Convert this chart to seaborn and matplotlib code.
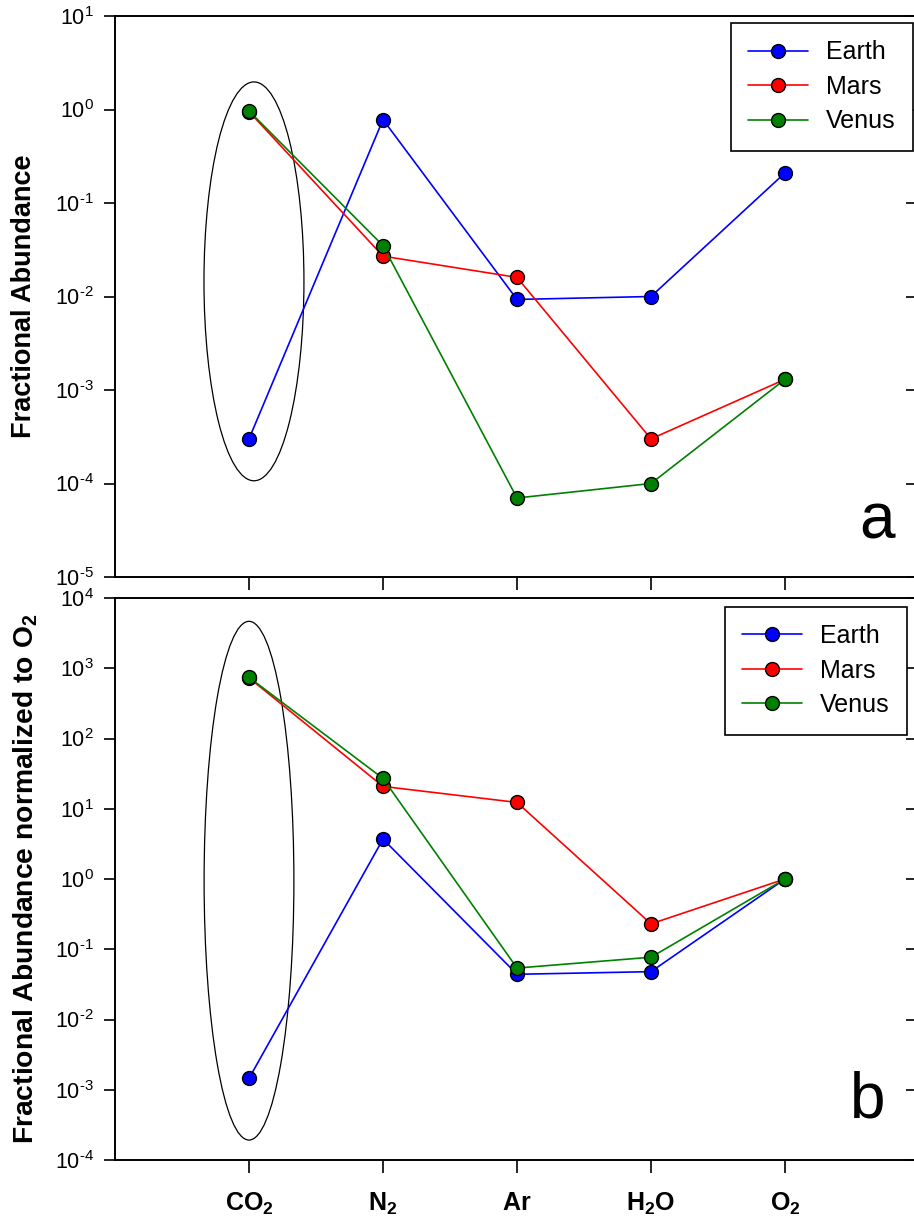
import matplotlib
matplotlib.use("Agg")
import matplotlib.pyplot as plt
import matplotlib.font_manager as fm
import seaborn as sns
import numpy as np
from matplotlib.patches import Ellipse
from matplotlib.ticker import FixedLocator, NullLocator

# ---- data ----
gases = [r"$\mathbf{CO_2}$", r"$\mathbf{N_2}$", r"$\mathbf{Ar}$", r"$\mathbf{H_2O}$", r"$\mathbf{O_2}$"]
planets = ["Earth", "Mars", "Venus"]
colors = ["#0000ff", "#ff0000", "#008000"]

# panel a: fractional abundance
earth_a = [3.0e-4, 0.78, 9.3e-3, 1.0e-2, 0.21]
mars_a = [0.95, 0.027, 0.016, 3.0e-4, 1.3e-3]
venus_a = [0.965, 0.035, 7.0e-5, 1.0e-4, 1.3e-3]

# panel b: fractional abundance normalized to O2
earth_b = [1.45e-3, 3.7, 0.044, 0.048, 1.0]
mars_b = [730.0, 20.8, 12.3, 0.23, 1.0]
venus_b = [742.0, 27.0, 0.054, 0.077, 1.0]

ylabel_a = "Fractional Abundance"
ylabel_b = r"Fractional Abundance normalized to O$_\mathbf{2}$"

sns.set_style("white")
plt.rcParams["font.family"] = ["Liberation Sans", "DejaVu Sans"]
plt.rcParams["text.color"] = "black"
plt.rcParams["axes.labelcolor"] = "black"
plt.rcParams["xtick.color"] = "black"
plt.rcParams["ytick.color"] = "black"
plt.rcParams["mathtext.fontset"] = "custom"
plt.rcParams["mathtext.rm"] = "Liberation Sans"
plt.rcParams["mathtext.it"] = "Liberation Sans:italic"
plt.rcParams["mathtext.bf"] = "Liberation Sans:bold"

narrow = None
try:
    p = fm.findfont(fm.FontProperties(family="Liberation Sans Narrow", weight="bold"),
                    fallback_to_default=False)
    if "Narrow" in p:
        narrow = "Liberation Sans Narrow"
except Exception:
    narrow = None

fig = plt.figure(figsize=(9.14, 12.18), dpi=100)
W, H = 914.0, 1218.0
left = 115 / W
width = (917 - 115) / W
ax_a = fig.add_axes([left, (H - 577) / H, width, (577 - 16) / H])
ax_b = fig.add_axes([left, (H - 1160) / H, width, (1160 - 598) / H])

xpos = np.arange(1, len(gases) + 1)


def draw(ax, series, ylim, ell, letter, letter_xy, ylabel, label_x, label_fs, leg_anchor):
    for name, vals, c in zip(planets, series, colors):
        sns.lineplot(x=xpos, y=vals, ax=ax, color=c, marker="o", markersize=10,
                     markeredgecolor="black", markeredgewidth=1.0, linewidth=1.2,
                     label=name, sort=False, estimator=None)
    ax.set_yscale("log")
    ax.set_ylim(*ylim)
    ax.set_xlim(0, 5.985)
    lo, hi = int(np.log10(ylim[0])), int(np.log10(ylim[1]))
    decs = list(range(lo, hi + 1))
    ax.yaxis.set_major_locator(FixedLocator([10.0 ** d for d in decs]))
    ax.set_yticklabels([r"$10^{\text{-}%d}$" % (-d) if d < 0 else r"$10^{%d}$" % d
                        for d in decs])
    ax.yaxis.set_minor_locator(NullLocator())
    ax.set_xticks(xpos)
    for s in ax.spines.values():
        s.set_color("black")
        s.set_linewidth(1.4)
    ax.tick_params(axis="y", which="major", direction="out", length=8, width=1.2,
                   labelsize=15.5, colors="black", left=True, right=False, pad=7)
    ax.tick_params(axis="x", which="major", direction="out", length=9, width=1.2,
                   bottom=True, colors="black")
    sec = ax.secondary_yaxis("right")
    sec.yaxis.set_major_locator(FixedLocator([10.0 ** d for d in decs]))
    sec.yaxis.set_minor_locator(NullLocator())
    sec.tick_params(direction="in", length=8, width=1.2, labelright=False)
    sec.spines["right"].set_visible(False)
    e = Ellipse((ell[3], ell[0]), ell[2], ell[1], transform=ax.get_xaxis_transform(),
                fill=False, edgecolor="black", linewidth=0.9)
    ax.add_patch(e)
    ax.text(letter_xy[0], letter_xy[1], letter, transform=ax.transAxes, fontsize=46,
            ha="center", va="baseline", color="black")
    ax.set_ylabel(ylabel, fontsize=label_fs, fontweight="bold", color="black")
    ax.yaxis.set_label_coords(label_x, 0.5)
    leg = ax.legend(loc="upper right", bbox_to_anchor=leg_anchor, fontsize=18,
                    frameon=True, fancybox=False, edgecolor="black",
                    handlelength=2.4, borderpad=0.7, labelspacing=0.42,
                    handletextpad=0.7, borderaxespad=0.3)
    leg.get_frame().set_linewidth(1.2)
    leg.get_frame().set_alpha(1)
    for t in leg.get_texts():
        t.set_color("black")
    ax.set_xlabel("")


draw(ax_a, [earth_a, mars_a, venus_a], (1e-5, 1e1), (0.527, 0.711, 0.746, 1.037), "a",
     (0.950, 0.0695), ylabel_a, -0.097, 19.5, (1.004, 1.001))
ax_a.set_xticklabels([])
draw(ax_b, [earth_b, mars_b, venus_b], (1e-4, 1e4), (0.497, 0.923, 0.67, 1.0), "b",
     (0.938, 0.0765), ylabel_b, -0.094, 20.3, (0.997, 0.998))
ax_b.set_xticklabels(gases, fontsize=18)
if narrow:
    plt.rcParams["mathtext.bf"] = narrow + ":bold"
ax_b.tick_params(axis="x", pad=13)

fig.savefig("out.png", dpi=100)
